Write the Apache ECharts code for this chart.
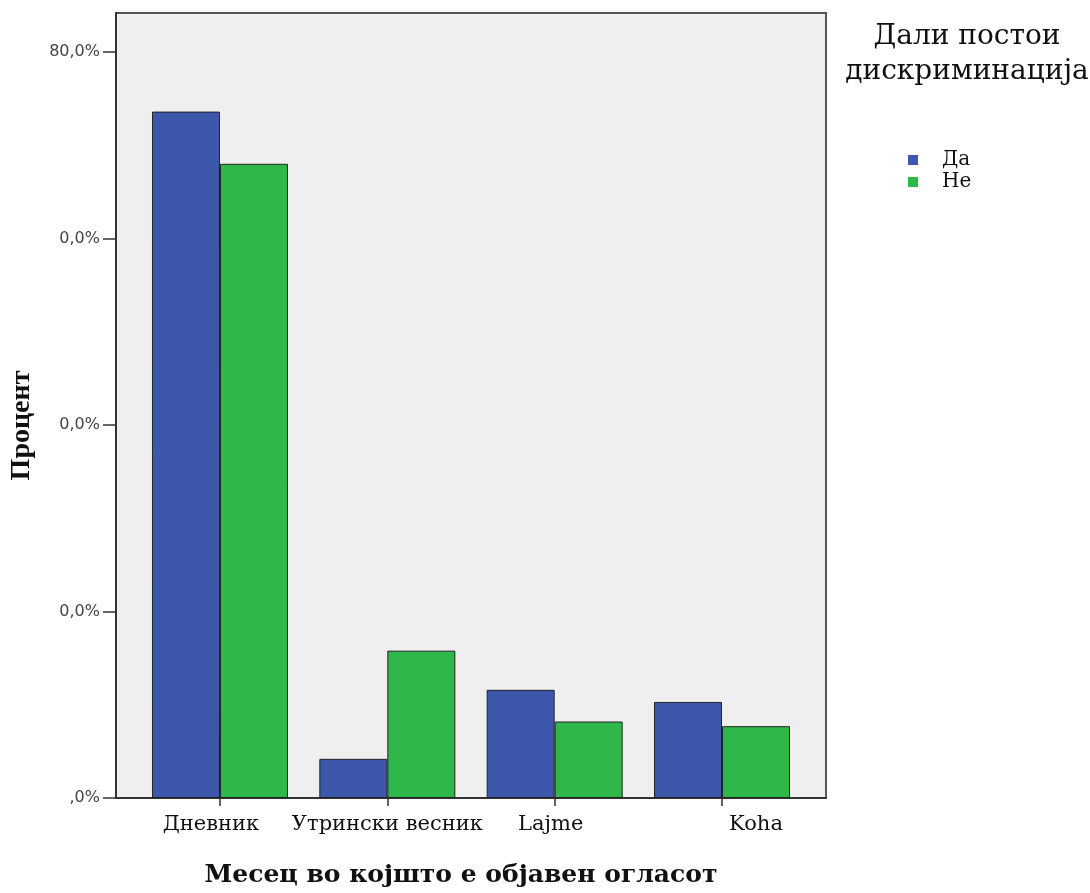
<!DOCTYPE html>
<html>
<head>
<meta charset="utf-8">
<script src="https://cdn.jsdelivr.net/npm/echarts@6/dist/echarts.min.js"></script>
<style>
html,body{margin:0;padding:0;background:#fff;}
#chart{width:1090px;height:893px;}
</style>
</head>
<body>
<div id="chart"></div>
<script>
// ---- data ----
const categories = ['Дневник', 'Утрински весник', 'Lajme', 'Koha'];
const seriesNames = ['Да', 'Не'];
const valuesDa = [73.6, 4.2, 11.6, 10.3];
const valuesNe = [68.0, 15.8, 8.2, 7.7];
const yTickValues = [0, 20, 40, 60, 80];
const yTickLabels = [',0%', '0,0%', '0,0%', '0,0%', '80,0%'];
const legendTitle = 'Дали постои\nдискриминација';
const xAxisTitle = 'Месец во којшто е објавен огласот';
const yAxisTitle = 'Процент';

const catIdx = categories.map((c, i) => i);
const toPairs = vals => vals.map((v, i) => [i, v]);

const chart = echarts.init(document.getElementById('chart'), null, {renderer: 'canvas'});
const serif = 'DejaVu Serif';

chart.setOption({
  animation: false,
  backgroundColor: '#ffffff',
  title: {
    text: legendTitle,
    left: 962,
    top: 14,
    textAlign: 'center',
    textStyle: {fontFamily: serif, fontWeight: 'normal', fontSize: 28, color: '#111', lineHeight: 35}
  },
  legend: {
    orient: 'vertical',
    left: 903,
    top: 145,
    icon: 'rect',
    itemWidth: 10,
    itemHeight: 10,
    itemGap: 2,
    data: seriesNames,
    itemStyle: {borderWidth: 0},
    textStyle: {fontFamily: serif, fontSize: 20, color: '#111', padding: [0, 0, 0, 19]}
  },
  grid: {
    left: 114, top: 13, width: 712, height: 792,
    show: true, backgroundColor: '#efefef', borderColor: '#555', borderWidth: 2,
    containLabel: false
  },
  xAxis: {
    type: 'value',
    min: -0.6215, max: 3.6215,
    splitLine: {show: false},
    axisLine: {show: true, onZero: false, lineStyle: {color: '#333', width: 2}},
    axisTick: {show: true, customValues: catIdx, length: 8, lineStyle: {color: '#333', width: 1.5}},
    axisLabel: {
      show: true, customValues: catIdx, margin: 16,
      formatter: v => '{l' + v + '|' + categories[v] + '}',
      rich: {
        l0: {fontFamily: serif, fontSize: 21, color: '#111', padding: [0, 18, 0, 0]},
        l1: {fontFamily: serif, fontSize: 21, color: '#111'},
        l2: {fontFamily: serif, fontSize: 21, color: '#111', padding: [0, 8, 0, 0]},
        l3: {fontFamily: serif, fontSize: 21, color: '#111', padding: [0, 0, 0, 68]}
      }
    },
    name: xAxisTitle,
    nameLocation: 'middle',
    nameGap: 65,
    nameTextStyle: {fontFamily: serif, fontWeight: 'bold', fontSize: 25, color: '#111', padding: [0, 20, 0, 0]}
  },
  yAxis: {
    type: 'value',
    min: 0, max: 84.17,
    splitLine: {show: false},
    axisLine: {show: true, onZero: false, lineStyle: {color: '#333', width: 2}},
    axisTick: {show: true, customValues: yTickValues, length: 13, lineStyle: {color: '#333', width: 1.5}},
    axisLabel: {
      show: true, customValues: yTickValues, margin: 16,
      formatter: v => yTickLabels[yTickValues.indexOf(v)],
      fontFamily: 'DejaVu Sans', fontSize: 16, color: '#444'
    },
    name: yAxisTitle,
    nameLocation: 'middle',
    nameRotate: 90,
    nameGap: 80,
    nameTextStyle: {fontFamily: 'Liberation Serif', fontWeight: 'bold', fontSize: 28, color: '#111', padding: [0, 40, 0, 0]}
  },
  series: [
    {
      name: seriesNames[0], type: 'bar', data: toPairs(valuesDa),
      barWidth: 68, barGap: '0%',
      itemStyle: {color: '#3d57aa', borderColor: '#222', borderWidth: 1}
    },
    {
      name: seriesNames[1], type: 'bar', data: toPairs(valuesNe),
      barWidth: 68, barGap: '0%',
      itemStyle: {color: '#2eb84a', borderColor: '#222', borderWidth: 1}
    }
  ]
});
</script>
</body>
</html>
